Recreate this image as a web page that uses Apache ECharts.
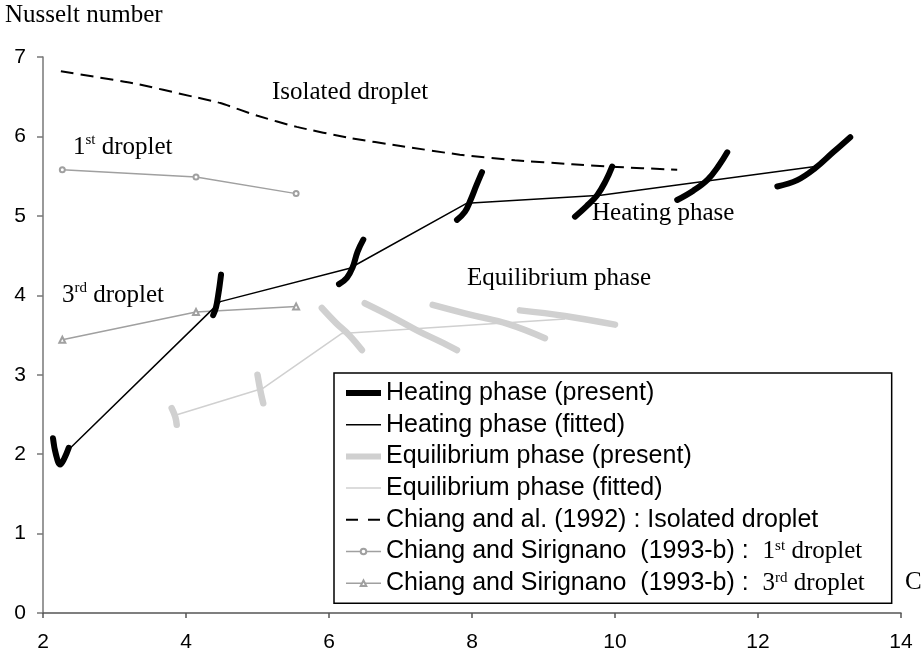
<!DOCTYPE html>
<html>
<head>
<meta charset="utf-8">
<script src="https://cdn.jsdelivr.net/npm/echarts@6/dist/echarts.min.js"></script>
<style>
  html, body { margin: 0; padding: 0; background: #fff; }
  #chart { width: 921px; height: 655px; }
</style>
</head>
<body>
<div id="chart"></div>
<script>
// Chiang and al. (1992) : isolated droplet
const isolatedX = [2.25, 3.26, 4.1, 4.48, 5.0, 5.55, 6.29, 7.0, 7.83, 8.6, 9.4, 9.93, 10.87];
const isolatedY = [6.82, 6.67, 6.50, 6.42, 6.26, 6.12, 5.98, 5.88, 5.77, 5.70, 5.65, 5.62, 5.58];

// Chiang and Sirignano (1993-b)
const dropletX = [2.27, 4.14, 5.54];
const firstDropY = [5.58, 5.49, 5.28];
const thirdDropY = [3.44, 3.79, 3.86];

// heating phase, fitted
const heatFitX = [2.35, 4.48, 6.29, 7.93, 9.8, 12.8];
const heatFitY = [2.05, 3.92, 4.34, 5.16, 5.26, 5.62];

// heating phase, present (one stroke per case)
const heatPresent = [
  [[2.14, 2.20], [2.18, 2.00], [2.24, 1.87], [2.30, 1.95], [2.36, 2.08]],
  [[4.38, 3.75], [4.42, 3.85], [4.45, 4.00], [4.47, 4.12], [4.49, 4.26]],
  [[6.14, 4.14], [6.25, 4.22], [6.33, 4.35], [6.40, 4.55], [6.48, 4.70]],
  [[7.79, 4.95], [7.90, 5.05], [7.98, 5.20], [8.06, 5.38], [8.14, 5.55]],
  [[9.44, 4.99], [9.60, 5.12], [9.75, 5.26], [9.87, 5.44], [9.96, 5.62]],
  [[10.87, 5.20], [11.10, 5.32], [11.30, 5.46], [11.45, 5.63], [11.57, 5.80]],
  [[12.27, 5.37], [12.55, 5.45], [12.80, 5.60], [13.05, 5.80], [13.29, 5.99]]
];

// equilibrium phase, fitted
const equilFitX = [3.85, 5.08, 6.18, 9.3];
const equilFitY = [2.49, 2.83, 3.52, 3.70];

// equilibrium phase, present
const equilPresent = [
  [[3.80, 2.58], [3.85, 2.47], [3.87, 2.37]],
  [[5.00, 3.00], [5.04, 2.80], [5.08, 2.64]],
  [[5.90, 3.84], [6.10, 3.65], [6.28, 3.50], [6.46, 3.31]],
  [[6.50, 3.90], [6.90, 3.72], [7.25, 3.55], [7.55, 3.42], [7.79, 3.31]],
  [[7.45, 3.88], [8.00, 3.75], [8.50, 3.64], [9.02, 3.46]],
  [[8.67, 3.81], [9.30, 3.74], [10.00, 3.63]]
];

const SANS = 'Liberation Sans';
const SERIF = 'Liberation Serif';

const zip = (xs, ys) => xs.map((x, i) => [x, ys[i]]);
// join strokes, with an empty point between them so the line breaks
const strokes = (segs) => {
  const out = [];
  segs.forEach((s, i) => {
    if (i > 0) out.push(['-', '-']);
    s.forEach(p => out.push(p));
  });
  return out;
};

const names = [
  'Heating phase (present)',
  'Heating phase (fitted)',
  'Equilibrium phase (present)',
  'Equilibrium phase (fitted)',
  'Chiang and al. (1992) : Isolated droplet',
  'Chiang and Sirignano (1993-b) : 1st droplet',
  'Chiang and Sirignano (1993-b) : 3rd droplet'
];

const chart = echarts.init(document.getElementById('chart'));

const serifLabel = (x, y, text) => ({
  type: 'text', x: x, y: y,
  style: {
    text: text, fill: '#000', verticalAlign: 'middle',
    font: '25px "' + SERIF + '"',
    rich: {
      a: {fontFamily: SERIF, fontSize: 25, lineHeight: 28},
      b: {fontFamily: SERIF, fontSize: 15, lineHeight: 28, verticalAlign: 'top'}
    }
  }
});

const option = {
  animation: false,
  grid: {left: 43, right: 20, top: 57, bottom: 42},
  xAxis: {
    type: 'value', min: 2, max: 14, interval: 2,
    axisLine: {lineStyle: {color: '#555', width: 1.5}},
    axisTick: {length: 5, lineStyle: {color: '#555', width: 1.5}},
    axisLabel: {fontFamily: SANS, fontSize: 21, color: '#000', margin: 19},
    splitLine: {show: false}
  },
  yAxis: {
    type: 'value', min: 0, max: 7, interval: 1,
    axisLine: {show: true, lineStyle: {color: '#777', width: 1.5}},
    axisTick: {show: true, length: 6, lineStyle: {color: '#777', width: 1.5}},
    axisLabel: {fontFamily: SANS, fontSize: 21, color: '#000', margin: 17},
    splitLine: {show: false}
  },
  legend: {
    orient: 'vertical', left: 334, top: 373,
    padding: [7, 27, 7, 9], itemGap: 5.7,
    itemWidth: 35, itemHeight: 7,
    borderColor: '#000', borderWidth: 1.5, backgroundColor: '#fff',
    selectedMode: false,
    textStyle: {
      fontFamily: SANS, fontSize: 25, lineHeight: 26, color: '#000',
      rich: {
        s: {fontFamily: SERIF, fontSize: 25, lineHeight: 26},
        sup: {fontFamily: SERIF, fontSize: 15, lineHeight: 26, verticalAlign: 'top'}
      }
    },
    formatter: (name) => {
      if (name === names[5]) return 'Chiang and Sirignano  (1993-b) :  {s|1}{sup|st}{s| droplet}';
      if (name === names[6]) return 'Chiang and Sirignano  (1993-b) :  {s|3}{sup|rd}{s| droplet}';
      return name;
    },
    data: [
      {name: names[0], itemStyle: {opacity: 0}, lineStyle: {width: 6, color: '#000', cap: 'butt'}},
      {name: names[1], itemStyle: {opacity: 0}, lineStyle: {width: 1.5, color: '#000'}},
      {name: names[2], itemStyle: {opacity: 0}, lineStyle: {width: 6, color: '#d0d0d0', cap: 'butt'}},
      {name: names[3], itemStyle: {opacity: 0}, lineStyle: {width: 1.5, color: '#d0d0d0'}},
      {name: names[4], itemStyle: {opacity: 0}, lineStyle: {width: 2, color: '#000', type: [12, 10]}},
      {name: names[5], lineStyle: {width: 1.5, color: '#a0a0a0'}},
      {name: names[6], lineStyle: {width: 1.5, color: '#a0a0a0'}}
    ]
  },
  series: [
    {
      name: names[2], type: 'line', data: strokes(equilPresent),
      smooth: 0.4, connectNulls: false, symbol: 'none',
      lineStyle: {color: '#d0d0d0', width: 6.5, cap: 'round', join: 'round'},
      itemStyle: {color: '#d0d0d0'}
    },
    {
      name: names[3], type: 'line', data: zip(equilFitX, equilFitY), symbol: 'none',
      lineStyle: {color: '#d0d0d0', width: 1.5}, itemStyle: {color: '#d0d0d0'}
    },
    {
      name: names[4], type: 'line', data: zip(isolatedX, isolatedY), symbol: 'none', smooth: 0.2,
      lineStyle: {color: '#000', width: 2, type: [13, 7]}, itemStyle: {color: '#000'}
    },
    {
      name: names[5], type: 'line', data: zip(dropletX, firstDropY),
      symbol: 'emptyCircle', symbolSize: 5,
      lineStyle: {color: '#a0a0a0', width: 1.5}, itemStyle: {color: '#a0a0a0', borderWidth: 1}
    },
    {
      name: names[6], type: 'line', data: zip(dropletX, thirdDropY),
      symbol: 'emptyTriangle', symbolSize: 6,
      lineStyle: {color: '#a0a0a0', width: 1.5}, itemStyle: {color: '#a0a0a0', borderWidth: 1}
    },
    {
      name: names[1], type: 'line', data: zip(heatFitX, heatFitY), symbol: 'none',
      lineStyle: {color: '#000', width: 1.5}, itemStyle: {color: '#000'}
    },
    {
      name: names[0], type: 'line', data: strokes(heatPresent),
      smooth: 0.4, connectNulls: false, symbol: 'none',
      lineStyle: {color: '#000', width: 6, cap: 'round', join: 'round'},
      itemStyle: {color: '#000'}
    }
  ],
  graphic: [
    serifLabel(5, 15, 'Nusselt number'),
    serifLabel(272, 92, 'Isolated droplet'),
    serifLabel(73, 147, '{a|1}{b|st}{a| droplet}'),
    serifLabel(62, 295, '{a|3}{b|rd}{a| droplet}'),
    serifLabel(592, 213, 'Heating phase'),
    serifLabel(467, 278, 'Equilibrium phase'),
    serifLabel(905, 582, 'C')
  ]
};

chart.setOption(option);
</script>
</body>
</html>
